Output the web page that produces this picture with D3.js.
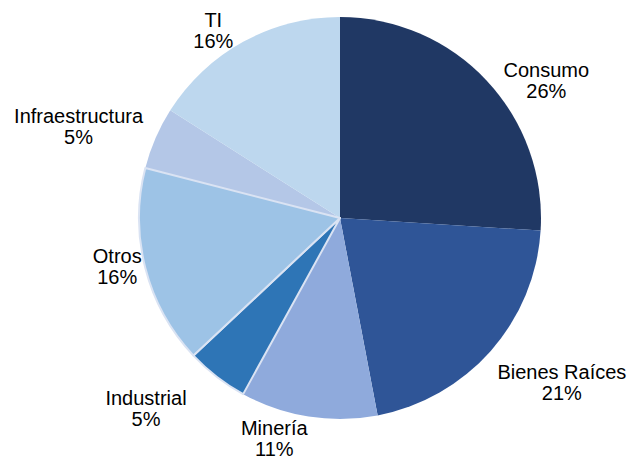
<!DOCTYPE html>
<html>
<head>
<meta charset="utf-8">
<script src="https://cdn.jsdelivr.net/npm/d3@7"></script>
<style>
  body { margin: 0; background: #fff; }
  text { font-family: 'Liberation Sans', Arial, sans-serif; font-size: 20px; fill: #000; }
</style>
</head>
<body>
<div id="chart"></div>
<script>
'use strict';
// Chart data
const sectors = ['Consumo', 'Bienes Raíces', 'Minería', 'Industrial', 'Otros', 'Infraestructura', 'TI']
const shares = [26, 21, 11, 5, 16, 5, 16]
const colors = ['#203864', '#2F5597', '#8FAADC', '#2E75B6', '#9DC3E6', '#B4C7E7', '#BDD7EE']

const width = 633
const height = 460
const radius = 201
const center = { x: 340, y: 218 }
// label placement tweaks, [degrees off the slice middle, px beyond the rim]
const labelNudge = [[9.5, 47], [-4.9, 75], [7.6, 29], [7.7, 71], [2.1, 27], [-4.1, 76], [-5.3, 25]]
const outlined = ['Otros', 'Industrial']

const svg = d3.select('#chart')
  .append('svg')
  .attr('width', width)
  .attr('height', height)
  .append('g')
  .attr('transform', `translate(${center.x},${center.y})`)

const pie = d3.pie().sort(null).value(d => d.value)
const arcs = pie(sectors.map((name, i) => ({ name, value: shares[i], color: colors[i] })))
const arc = d3.arc().innerRadius(0).outerRadius(radius)

// Slices
svg.selectAll('path.slice')
  .data(arcs)
  .join('path')
  .attr('class', 'slice')
  .attr('d', arc)
  .attr('fill', d => d.data.color)

// Light outline on the two slices that have one in the reference
svg.selectAll('path.outline')
  .data(arcs.filter(d => outlined.includes(d.data.name)))
  .join('path')
  .attr('class', 'outline')
  .attr('d', arc)
  .attr('fill', d => d.data.color)
  .attr('stroke', '#DAE3F3')
  .attr('stroke-width', 2)
  .attr('stroke-linejoin', 'round')

// Labels
const labels = svg.selectAll('text.label')
  .data(arcs)
  .join('text')
  .attr('class', 'label')
  .attr('text-anchor', 'middle')
  .attr('transform', (d, i) => {
    const a = (d.startAngle + d.endAngle) / 2 + labelNudge[i][0] * Math.PI / 180
    const r = radius + labelNudge[i][1]
    return `translate(${r * Math.sin(a)},${-r * Math.cos(a)})`
  })

labels.append('tspan')
  .attr('x', 0)
  .attr('dy', '-0.175em')
  .text(d => d.data.name)
labels.append('tspan')
  .attr('x', 0)
  .attr('dy', 21)
  .text(d => `${d.data.value}%`)
</script>
</body>
</html>
